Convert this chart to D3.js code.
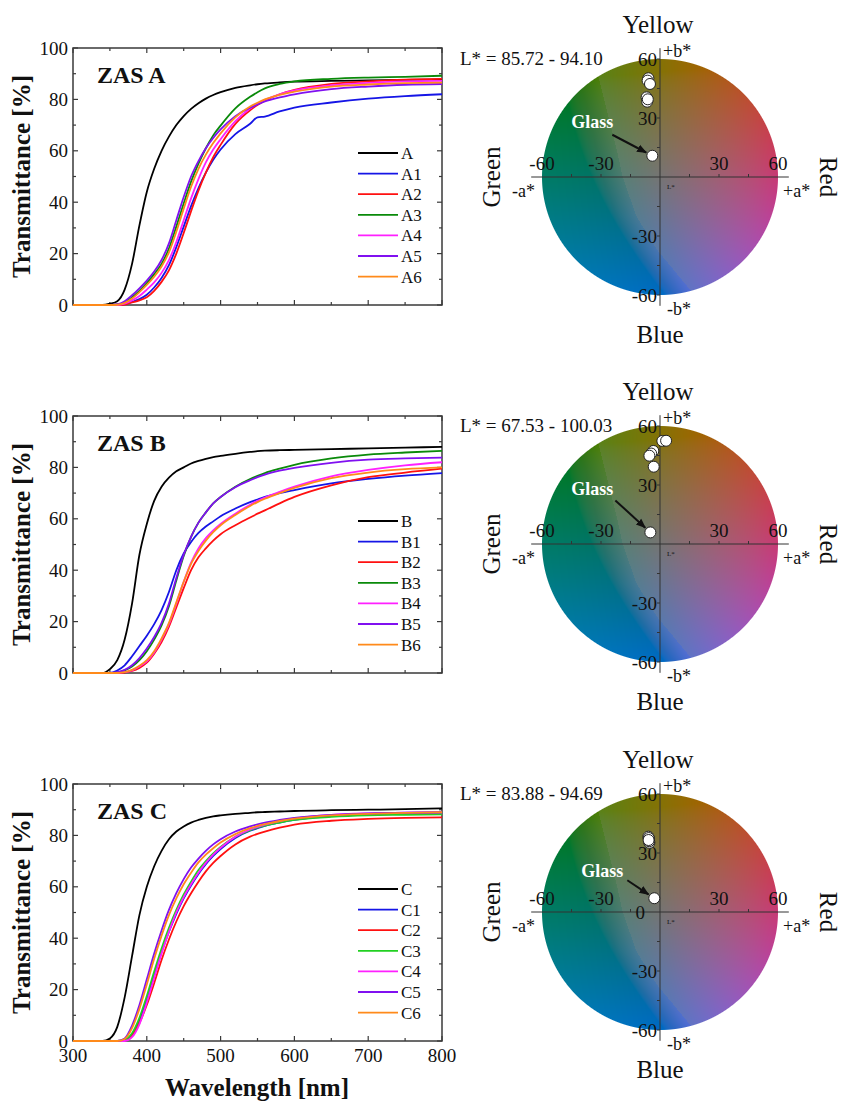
<!DOCTYPE html>
<html><head><meta charset="utf-8">
<script src="https://cdn.jsdelivr.net/npm/d3@7"></script>
<style>
body{margin:0;background:#fff}
svg{display:block}
text{font-family:"Liberation Serif","Times New Roman",serif;fill:#111}
</style></head>
<body><svg id="chart" width="842" height="1101"></svg>
<script>
// ---------- DATA ----------
const wavelengths = [300,340,350,360,370,380,390,400,410,420,430,440,450,460,470,480,490,500,520,540,550,560,580,600,650,700,750,800];
const xTicks = [300,400,500,600,700,800];
const yTicks = [0,20,40,60,80,100];

// ZAS A
const A0 = [0,0,0.5,1.5,6,16,31,44,53,60,65.5,70,73.5,76.3,78.5,80.3,81.7,82.8,84.5,85.5,85.9,86.2,86.6,86.9,87.2,87.4,87.6,87.8];
const A1 = [0,0,0,0,0.3,1.2,2.3,4,6.8,10.5,15.5,22.5,30.5,38.5,45.5,51.5,56.5,60.5,66.5,70.5,73,73.3,75.3,76.8,78.8,80.3,81.3,82];
const A2 = [0,0,0,0,0.2,1,1.8,3,5.5,9,13.5,20,28,36.5,44.5,51.5,57.5,62.3,70.5,75.8,77.8,79.5,82,83.7,86,87,87.7,88];
const A3 = [0,0,0,0.2,1,3,5.5,8.5,12,16,22,30.5,39.5,48,55,61,66,69.8,76.5,81,82.8,84.3,86,87,88,88.5,88.8,89.2];
const A4 = [0,0,0,0,0.5,1.8,3.5,6,8.8,12.5,17.5,24.5,33,41.5,49,55.5,60.5,64.5,71.5,76.5,78.3,79.8,82,83.5,85.5,86.4,87,87.2];
const A5 = [0,0,0,0.3,1.5,3.8,6.5,9.5,13,17.5,24,33,42,50,56,61,65,68.3,73.5,76.8,78,79.2,80.8,82,84,85,85.7,86];
const A6 = [0,0,0,0.1,0.8,2.5,5,7.8,11,15,20.5,28.5,37.5,46,53,58.5,63,66.8,73,77.2,78.7,80,81.8,83,85,85.8,86.3,86.5];
// ZAS B
const B0 = [0,0,1.5,5,13,27,46,58,67,72.5,76,78.5,80,81.5,82.5,83.3,84,84.5,85.3,86,86.3,86.5,86.7,86.8,87.1,87.4,87.7,88];
const B1 = [0,0,0,1,3,6.5,10.5,14.5,19,24.5,31.5,40,46.5,51,54.5,57,59,61,64,66.5,67.5,68.5,70,71.2,73.8,75.5,76.8,77.8];
const B2 = [0,0,0,0,0.2,0.8,2,4,7.5,12,18,25.5,33,40,45,48.5,51.5,54,57.5,60.5,62,63.3,66,68.5,73,76.2,78,79.5];
const B3 = [0,0,0,0.2,1,2.5,5,8.5,13,18.5,26,36,45.5,53,58.5,62.5,66,68.5,72.5,75.5,76.7,77.8,79.5,81,83.5,85,85.8,86.4];
const B4 = [0,0,0,0,0.3,1,2.5,4.5,8,13,19,27,35.5,43,48.5,52.5,55.5,58,62,65.5,67,68.3,70.5,72.5,76.5,79,80.8,82];
const B5 = [0,0,0,0.3,1.2,3,5.8,9.5,14,19.5,27,37,46,53,58.5,62.5,66,68.5,72.3,75,76.2,77.2,78.7,79.8,81.8,83,83.5,83.8];
const B6 = [0,0,0,0,0.3,1.2,2.8,5,8.5,13.5,19.5,27.5,35.5,42.5,47.5,51.5,54.8,57.5,61.5,65,66.5,67.8,70,72,75.8,78,79.3,80];
// ZAS C
const C0 = [0,0,1,5.5,17,33,49,60,68,74,78.5,81.5,83.5,85,86,86.8,87.4,87.8,88.4,88.8,89,89.1,89.3,89.5,89.8,90,90.2,90.5];
const C1 = [0,0,0,0,0.3,2.5,8,16,25.5,34.5,42.5,49.5,55.5,60.5,65,68.8,72,74.7,79,81.8,82.8,83.7,85,86,87.5,88.2,88.6,88.8];
const C2 = [0,0,0,0,0.2,2,7,14,22.5,31.5,39.5,46.5,52.5,57.5,62,66,69.3,72,76.5,79.5,80.6,81.5,83,84.2,85.7,86.4,86.8,87];
const C3 = [0,0,0,0,0.4,3,9,17.5,27,36,44,51,57,62,66.5,70,73,75.5,79.5,82,83,83.8,85,86,87.2,87.8,88,88.2];
const C4 = [0,0,0,0,0,1.5,6.5,15,24.5,34,42.5,50,56,61,65.5,69.3,72.5,75.2,79.5,82.3,83.3,84.2,85.6,86.6,88,88.6,88.9,89];
const C5 = [0,0,0,0,1,6,14,24,34,43,51,57.5,63,67.5,71,74,76.5,78.5,81.5,83.5,84.3,85,86,86.8,88,88.6,88.9,89];
const C6 = [0,0,0,0,0.8,5,12.5,22,32,41,49,55.5,61,65.5,69.5,72.5,75,77.2,80.5,82.8,83.7,84.4,85.6,86.5,87.8,88.4,88.8,89];

const panelTitles = ["ZAS A","ZAS B","ZAS C"];
const namesA = ["A","A1","A2","A3","A4","A5","A6"];
const namesB = ["B","B1","B2","B3","B4","B5","B6"];
const namesC = ["C","C1","C2","C3","C4","C5","C6"];
const colorsAB = ["#000000","#1515e6","#ff1010","#0a8a0a","#ff20ff","#8010f0","#ff8a1a"];
const colorsC  = ["#000000","#1515e6","#ff1010","#22d022","#ff20ff","#8010f0","#ff8a1a"];

// CIELAB wheel data (a*, b*)
const wheelA_a = [-5.9,-6.3,-5.1,-6.8,-6.5,-6.2];
const wheelA_b = [50.2,49.0,47.3,40.5,38.3,39.5];
const wheelB_a = [1.2,3.1,-3.4,-4.5,-5.4,-3.2];
const wheelB_b = [52.4,52.5,47.3,46.0,44.9,39.3];
const wheelC_a = [-5.9,-5.6,-5.4,-5.7,-5.5,-5.8];
const wheelC_b = [38.3,37.0,35.2,37.6,36.0,36.6];
const glassA = [-3.9,10.8];
const glassB = [-4.9,5.9];
const glassC = [-2.9,7.0];
const lRanges = ["L* = 85.72 - 94.10","L* = 67.53 - 100.03","L* = 83.88 - 94.69"];
const wheelTicks = [-60,-30,30,60];

// ---------- LAYOUT ----------
const svg = d3.select("#chart");
const panelDy = [0,368,736];
const wheelDy = [0,367,735];
const seriesSets = [[A0,A1,A2,A3,A4,A5,A6],[B0,B1,B2,B3,B4,B5,B6],[C0,C1,C2,C3,C4,C5,C6]];
const nameSets = [namesA,namesB,namesC];
const colorSets = [colorsAB,colorsAB,colorsC];
const frameColor = "#3a3a3a";

const defs = svg.append("defs");
defs.append("marker").attr("id","arrow").attr("viewBox","0 0 10 10").attr("refX",9).attr("refY",5)
  .attr("markerWidth",5).attr("markerHeight",5).attr("orient","auto")
  .append("path").attr("d","M0,1 L10,5 L0,9 Z").attr("fill","#111");

for (let i=0;i<3;i++){
  const top = 48+panelDy[i], bottom = 305+panelDy[i];
  const x = d3.scaleLinear().domain([300,800]).range([73,442]);
  const y = d3.scaleLinear().domain([0,100]).range([bottom,top]);
  const g = svg.append("g");
  defs.append("clipPath").attr("id","clip"+i).append("rect")
    .attr("x",73).attr("y",top-2).attr("width",369).attr("height",bottom-top+4);

  const xMinor = d3.range(350,800,100);
  const yMinor = d3.range(10,100,20);
  const tk = g.append("g").attr("stroke",frameColor).attr("stroke-width",1.2);
  xTicks.forEach(v=>{ tk.append("line").attr("x1",x(v)).attr("x2",x(v)).attr("y1",bottom).attr("y2",bottom-5);
                      tk.append("line").attr("x1",x(v)).attr("x2",x(v)).attr("y1",top).attr("y2",top+5);});
  xMinor.forEach(v=>{ tk.append("line").attr("x1",x(v)).attr("x2",x(v)).attr("y1",bottom).attr("y2",bottom-3);
                      tk.append("line").attr("x1",x(v)).attr("x2",x(v)).attr("y1",top).attr("y2",top+3);});
  yTicks.forEach(v=>{ tk.append("line").attr("x1",73).attr("x2",78).attr("y1",y(v)).attr("y2",y(v));
                      tk.append("line").attr("x1",442).attr("x2",437).attr("y1",y(v)).attr("y2",y(v));});
  yMinor.forEach(v=>{ tk.append("line").attr("x1",73).attr("x2",76).attr("y1",y(v)).attr("y2",y(v));
                      tk.append("line").attr("x1",442).attr("x2",439).attr("y1",y(v)).attr("y2",y(v));});
  g.append("rect").attr("x",73).attr("y",top).attr("width",369).attr("height",bottom-top)
    .attr("fill","none").attr("stroke",frameColor).attr("stroke-width",1.5);

  yTicks.forEach(v=> g.append("text").attr("x",68).attr("y",y(v)).attr("dy","0.35em")
    .attr("text-anchor","end").attr("font-size",19).text(v));
  if (i===2){
    xTicks.forEach(v=> g.append("text").attr("x",x(v)).attr("y",bottom+21)
      .attr("text-anchor","middle").attr("font-size",19).text(v));
    g.append("text").attr("x",257).attr("y",1096).attr("text-anchor","middle")
      .attr("font-size",25).attr("font-weight","bold").text("Wavelength [nm]");
  }
  g.append("text").attr("transform",`translate(30,${(top+bottom)/2}) rotate(-90)`)
    .attr("text-anchor","middle").attr("font-size",25).attr("font-weight","bold").text("Transmittance [%]");
  g.append("text").attr("x",97).attr("y",top+35).attr("font-size",24).attr("font-weight","bold").text(panelTitles[i]);

  const line = d3.line().x((d,j)=>x(wavelengths[j])).y(d=>y(d)).curve(d3.curveMonotoneX);
  const lg = g.append("g").attr("clip-path",`url(#clip${i})`);
  seriesSets[i].forEach((s,k)=>{
    lg.append("path").attr("d",line(s)).attr("fill","none")
      .attr("stroke",colorSets[i][k]).attr("stroke-width",1.8);
  });

  const ly0 = top+105;
  nameSets[i].forEach((n,k)=>{
    const yy = ly0 + k*20.6;
    g.append("line").attr("x1",358).attr("x2",398).attr("y1",yy).attr("y2",yy)
      .attr("stroke",colorSets[i][k]).attr("stroke-width",1.8);
    g.append("text").attr("x",401).attr("y",yy).attr("dy","0.35em").attr("font-size",17).text(n);
  });
}

// ---------- CIELAB wheel ----------
const R = 118;
const size = 2*R+4;
const canvas = document.createElement("canvas");
canvas.width = size; canvas.height = size;
const ctx = canvas.getContext("2d");
const img = ctx.createImageData(size,size);
const toUnit = d3.scaleLinear().domain([-R,R]).range([-60,60]);
const bandEdge = d3.scaleLinear().domain([-60,-57,-37,-20,0,14,50,60]).range([18,15,-1.5,-12,-19,-22,-31,-34]).clamp(true);
const grayTone = [146,140,130];
for (let py=0;py<size;py++){
  for (let px=0;px<size;px++){
    const dx = px+0.5-size/2, dy = py+0.5-size/2;
    const d = Math.sqrt(dx*dx+dy*dy);
    const alpha = Math.max(0,Math.min(1,R-d+0.5));
    if (alpha<=0) continue;
    const av = toUnit(dx), bv = -toUnit(dy);
    const c = d3.lab(48, av, bv).rgb();
    let rgb = [c.r,c.g,c.b].map(v=>Math.max(0,Math.min(255,v)));
    const s = av - bandEdge(bv);
    if (s>=0){
      const w = 0.2*Math.exp(-s/22);
      rgb = rgb.map((v,k)=> v*(1-w)+grayTone[k]*w);
    } else {
      const w = 0.1*Math.min(1,-s/10);
      rgb = rgb.map(v=> v*(1-w));
    }
    const o = (py*size+px)*4;
    img.data[o] = rgb[0]; img.data[o+1] = rgb[1]; img.data[o+2] = rgb[2];
    img.data[o+3] = Math.round(alpha*255);
  }
}
ctx.putImageData(img,0,0);
const wheelUrl = canvas.toDataURL();

const wheelPts = [[wheelA_a,wheelA_b],[wheelB_a,wheelB_b],[wheelC_a,wheelC_b]];
const glasses = [glassA,glassB,glassC];
const glassLabelOff = [[-39,-28],[-37,-37],[-31,-21]];
const glassArrowOff = [[-40,-21],[-35,-32],[-27,-18]];

for (let i=0;i<3;i++){
  const cx = 660, cy = 177+wheelDy[i];
  const a = d3.scaleLinear().domain([-60,60]).range([cx-R,cx+R]);
  const b = d3.scaleLinear().domain([-60,60]).range([cy+R,cy-R]);
  const g = svg.append("g");
  g.append("image").attr("href",wheelUrl).attr("x",cx-size/2).attr("y",cy-size/2)
    .attr("width",size).attr("height",size);
  const ax = g.append("g").attr("stroke","#333").attr("stroke-width",1);
  ax.append("line").attr("x1",a(-65.5)).attr("x2",a(65.5)).attr("y1",b(0)).attr("y2",b(0));
  ax.append("line").attr("x1",a(0)).attr("x2",a(0)).attr("y1",b(65.5)).attr("y2",b(-65.5));
  d3.range(-45,46,15).filter(v=>v!==0).forEach(v=>{
    ax.append("line").attr("x1",a(v)).attr("x2",a(v)).attr("y1",b(0)).attr("y2",b(0)-3);
    ax.append("line").attr("x1",a(0)).attr("x2",a(0)-3).attr("y1",b(v)).attr("y2",b(v));
  });
  ax.append("line").attr("x1",a(0)).attr("x2",a(0)-3).attr("y1",b(60)).attr("y2",b(60));
  ax.append("line").attr("x1",a(0)).attr("x2",a(0)-3).attr("y1",b(-60)).attr("y2",b(-60));
  wheelTicks.forEach(v=>{
    g.append("text").attr("x",a(v)).attr("y",b(0)-7).attr("text-anchor","middle").attr("font-size",19).text(v);
    g.append("text").attr("x",a(0)-3).attr("y",b(v)).attr("dy","0.35em").attr("text-anchor","end").attr("font-size",19).text(v);
  });
  if (i===2) g.append("text").attr("x",a(0)-15).attr("y",b(0)).attr("dy","0.35em").attr("text-anchor","end").attr("font-size",19).text("0");
  g.append("text").attr("x",a(0)+7).attr("y",b(0)+12).attr("font-size",7).text("L*");
  g.append("text").attr("x",cx+3).attr("y",cy-120).attr("font-size",18).text("+b*");
  g.append("text").attr("x",cx+7).attr("y",cy+138).attr("font-size",18).text("-b*");
  g.append("text").attr("x",cx-148).attr("y",cy+20).attr("font-size",18).text("-a*");
  g.append("text").attr("x",cx+123).attr("y",cy+20).attr("font-size",18).text("+a*");
  g.append("text").attr("x",cx-2).attr("y",cy-144).attr("text-anchor","middle").attr("font-size",25).text("Yellow");
  g.append("text").attr("x",cx).attr("y",cy+166).attr("text-anchor","middle").attr("font-size",25).text("Blue");
  g.append("text").attr("transform",`translate(${cx-160},${cy}) rotate(-90)`).attr("text-anchor","middle").attr("font-size",25).text("Green");
  g.append("text").attr("transform",`translate(${cx+160},${cy}) rotate(90)`).attr("text-anchor","middle").attr("font-size",25).text("Red");
  g.append("text").attr("x",460).attr("y",cy-112).attr("font-size",19).text(lRanges[i]);

  const [pa,pb] = wheelPts[i];
  pa.forEach((v,k)=> g.append("circle").attr("cx",a(v)).attr("cy",b(pb[k])).attr("r",5.5)
    .attr("fill","#fff").attr("stroke","#222").attr("stroke-width",1));
  const gl = glasses[i];
  const gx = a(gl[0]), gy = b(gl[1]);
  g.append("circle").attr("cx",gx).attr("cy",gy).attr("r",5.5).attr("fill","#fff").attr("stroke","#222").attr("stroke-width",1);
  const sx = gx+glassArrowOff[i][0], sy = gy+glassArrowOff[i][1];
  const len = Math.hypot(gx-sx,gy-sy), ux=(gx-sx)/len, uy=(gy-sy)/len;
  g.append("line").attr("x1",sx).attr("y1",sy).attr("x2",gx-ux*7).attr("y2",gy-uy*7)
    .attr("stroke","#111").attr("stroke-width",2).attr("marker-end","url(#arrow)");
  g.append("text").attr("x",gx+glassLabelOff[i][0]).attr("y",gy+glassLabelOff[i][1])
    .attr("text-anchor","end").attr("font-size",18).attr("font-weight","bold").style("fill","#fff").text("Glass");
}
</script></body></html>
